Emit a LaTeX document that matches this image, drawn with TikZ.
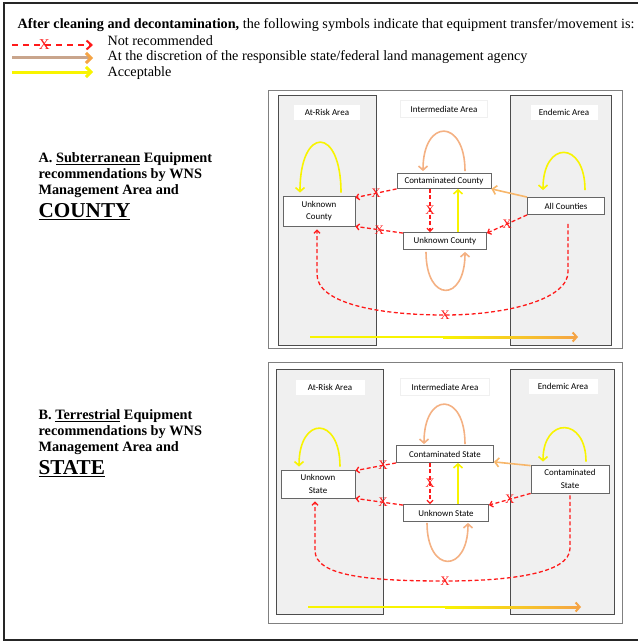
\documentclass[tikz,border=0pt]{standalone}
\usepackage{fontspec}
\setmainfont{Liberation Serif}
\newfontfamily\calfont{Carlito}
\usetikzlibrary{arrows.meta,positioning}
\definecolor{wnsred}{HTML}{FF1A1A}
\definecolor{wnsyellow}{HTML}{F8F400}
\definecolor{wnsorange}{HTML}{F4B183}
\definecolor{wnstan}{HTML}{C9A58C}
\definecolor{wnsamber}{HTML}{F5A445}
\definecolor{areafill}{HTML}{F0F0F0}

\begin{document}
\begin{tikzpicture}[x=1pt,y=-1pt,line width=1.2pt,
  area/.style={draw=black!70,fill=areafill,line width=1pt,inner sep=0pt},
  panel/.style={draw=black!50,line width=0.8pt},
  arealabel/.style={fill=white,draw=black!6,line width=0.5pt,font=\calfont\fontsize{9}{10}\selectfont,inner sep=0pt},
  site/.style={draw=black!60,fill=white,line width=0.8pt,font=\calfont\fontsize{8.9}{12.5}\selectfont,align=center,inner sep=0pt},
  nogo/.style={draw=wnsred,dash pattern=on 4pt off 2.5pt,line width=1.3pt,-{Straight Barb[length=3pt,width=6pt]}},
  okay/.style={draw=wnsyellow,line width=1.6pt,-{Straight Barb[length=4pt,width=9pt]}},
  maybe/.style={draw=wnsorange,line width=1.6pt,-{Straight Barb[length=4pt,width=9pt]}},
  xmark/.style={text=wnsred,font=\fontsize{13}{13}\selectfont,inner sep=0pt},
  legendtext/.style={anchor=west,inner sep=0pt,font=\fontsize{14.2}{15}\selectfont},
  title/.style={anchor=north west,inner sep=0pt,align=left,font=\bfseries\fontsize{14.3}{16}\selectfont}]
\useasboundingbox (0,0) rectangle (637,642);
\draw[black!85,line width=1.8pt] (4,3) rectangle (650,640);

% legend
\node[anchor=west,inner sep=0pt,font=\fontsize{14.2}{15}\selectfont] (head) at (17,25)
  {\textbf{After cleaning and decontamination,} the following symbols indicate that equipment transfer/movement is:};
\coordinate (nr0) at (12,45); \coordinate (nr1) at (93,45);
\coordinate (ds0) at (12,58); \coordinate (ds1) at (93,58);
\coordinate (ok0) at (12,72); \coordinate (ok1) at (93,72);
\draw[nogo,line width=2pt,dash pattern=on 6pt off 5pt,-{Straight Barb[length=5pt,width=9pt]}] (nr0) -- (nr1) node[xmark,pos=0.4,font=\fontsize{15}{15}\selectfont]{X};
\draw[wnstan,line width=3pt,-{Straight Barb[length=5pt,width=10pt,color=wnsamber]}] (ds0) -- (ds1);
\draw[okay,line width=3pt,-{Straight Barb[length=5pt,width=10pt]}] (ok0) -- (ok1);
\node[legendtext] (nrtext) at (107,41) {Not recommended};
\node[legendtext] (dstext) at (107,57) {At the discretion of the responsible state/federal land management agency};
\node[legendtext] (oktext) at (107,73) {Acceptable};

% panel A: county
\node[title] (titleA) at (38,152) {A. \underline{Subterranean} Equipment\\recommendations by WNS\\Management Area and\\[5pt]{\fontsize{21.2}{21}\selectfont\underline{COUNTY}}};
\draw[panel] (268,90) rectangle (622,348);
\node[area,minimum width=98pt,minimum height=250pt] (riskboxA) at (327,220) {};
\node[area,minimum width=101pt,minimum height=250pt] (endboxA) at (560.5,220) {};
\node[arealabel,minimum width=67pt,minimum height=16pt] (riskA) at (327,112) {At-Risk Area};
\node[arealabel,minimum width=87pt,minimum height=17pt] (midA) at (444,109) {Intermediate Area};
\node[arealabel,minimum width=68pt,minimum height=16pt] (endA) at (564,112) {Endemic Area};
\node[site,minimum width=72pt,minimum height=30pt] (ucA) at (319,211) {Unknown\\County};
\node[site,minimum width=94pt,minimum height=15pt] (ccA) at (444,181) {Contaminated County};
\node[site,minimum width=83pt,minimum height=17pt] (umA) at (445,241) {Unknown County};
\node[site,minimum width=77pt,minimum height=17pt] (acA) at (566,206) {All Counties};
\path
  (ccA.south west) edge[nogo] node[xmark]{X} ([yshift=-2pt]ucA.north east)
  ([yshift=-1pt]umA.north west) edge[nogo] node[xmark]{X} (ucA.south east)
  ([xshift=-14pt]ccA.south) edge[nogo] node[xmark]{X} ([xshift=-14pt]ccA.south |- umA.north)
  ([xshift=13pt]umA.north) edge[okay] ([xshift=13pt]umA.north |- ccA.south)
  (acA.north west) edge[maybe,draw=wnsamber!80] (ccA.south east)
  (acA.south west) edge[nogo] node[xmark]{X} ([yshift=-1pt]umA.north east)
  ([xshift=22pt,yshift=3pt]ucA.north) edge[okay,out=90,in=90,distance=67pt] ([xshift=-19pt,yshift=3pt]ucA.north)
  ([xshift=21pt,yshift=2pt]ccA.north) edge[maybe,out=90,in=90,distance=53pt] ([xshift=-21pt,yshift=2pt]ccA.north)
  ([xshift=-19pt,yshift=-2pt]umA.south) edge[maybe,out=-90,in=-90,distance=51pt] ([xshift=20pt,yshift=-2pt]umA.south)
  ([xshift=19pt,yshift=7pt]acA.north) edge[okay,out=90,in=90,distance=50pt] ([xshift=-23pt,yshift=7pt]acA.north)
  ;
\draw[nogo] ([xshift=2pt,yshift=-9pt]acA.south) -- ++(0,48) .. controls +(0,28) and +(60,0) .. (445,315) node[xmark]{X}
  .. controls +(-70,0) and +(0,28) .. ([xshift=-2pt,yshift=-48pt]ucA.south) -- ([xshift=-2pt,yshift=-3pt]ucA.south);
\coordinate (gA0) at (310,337); \coordinate (gAm) at (443,337); \coordinate (gA1) at (578,337);
\draw[wnsyellow,line width=2pt] (gA0) -- (gAm);
\shade[left color=wnsyellow,right color=wnsamber] ([yshift=1pt]gAm) rectangle ([xshift=-2pt,yshift=-1pt]gA1);
\draw[wnsamber,line width=2pt,-{Straight Barb[length=4pt,width=9pt]}] ([xshift=-4pt]gA1) -- (gA1);

% panel B: state
\node[title] (titleB) at (38,409) {B. \underline{Terrestrial} Equipment\\recommendations by WNS\\Management Area and\\[5pt]{\fontsize{21.2}{21}\selectfont\underline{STATE}}};
\draw[panel] (268,362) rectangle (622,623);
\node[area,minimum width=107pt,minimum height=245pt] (riskboxB) at (329.5,491.5) {};
\node[area,minimum width=104pt,minimum height=245pt] (endboxB) at (562,491.5) {};
\node[arealabel,minimum width=70pt,minimum height=16pt] (riskB) at (330,387) {At-Risk Area};
\node[arealabel,minimum width=89pt,minimum height=17pt] (midB) at (445,387) {Intermediate Area};
\node[arealabel,minimum width=70pt,minimum height=16pt] (endB) at (563,386) {Endemic Area};
\node[site,minimum width=74pt,minimum height=28pt] (usB) at (318,484) {Unknown\\State};
\node[site,minimum width=97pt,minimum height=17pt] (csB) at (445,454) {Contaminated State};
\node[site,minimum width=85pt,minimum height=17pt] (umB) at (446,513) {Unknown State};
\node[site,minimum width=78pt,minimum height=28pt] (crB) at (570,479) {Contaminated\\State};
\path
  (csB.south west) edge[nogo] node[xmark,pos=0.32]{X} ([yshift=-1pt]usB.north east)
  ([yshift=-1pt]umB.north west) edge[nogo] node[xmark,pos=0.42]{X} (usB.south east)
  ([xshift=-15pt]csB.south) edge[nogo] node[xmark]{X} ([xshift=-15pt]csB.south |- umB.north)
  ([xshift=12pt]umB.north) edge[okay] ([xshift=12pt]umB.north |- csB.south)
  ([yshift=-1pt]crB.north west) edge[maybe,draw=wnsamber!80] ([yshift=1pt]csB.south east)
  (crB.south west) edge[nogo] node[xmark]{X} ([yshift=-1pt]umB.north east)
  ([xshift=22pt,yshift=3pt]usB.north) edge[okay,out=90,in=90,distance=51pt] ([xshift=-19pt,yshift=3pt]usB.north)
  ([xshift=20pt,yshift=1pt]csB.north) edge[maybe,out=90,in=90,distance=53pt] ([xshift=-21pt,yshift=1pt]csB.north)
  ([xshift=-19pt,yshift=-1pt]umB.south) edge[maybe,out=-90,in=-90,distance=51pt] ([xshift=22pt,yshift=-1pt]umB.south)
  ([xshift=16pt,yshift=3pt]crB.north) edge[okay,out=90,in=90,distance=45pt] ([xshift=-27pt,yshift=3pt]crB.north)
  ;
\draw[nogo] ([yshift=-2pt]crB.south) -- ++(0,53) .. controls +(0,26) and +(60,0) .. (445,581) node[xmark]{X}
  .. controls +(-75,0) and +(0,26) .. ([xshift=-3pt,yshift=-52pt]usB.south) -- ([xshift=-3pt,yshift=-3pt]usB.south);
\coordinate (gB0) at (308,607); \coordinate (gBm) at (445,607); \coordinate (gB1) at (581,607);
\draw[wnsyellow,line width=2pt] (gB0) -- (gBm);
\shade[left color=wnsyellow,right color=wnsamber] ([yshift=1pt]gBm) rectangle ([xshift=-2pt,yshift=-1pt]gB1);
\draw[wnsamber,line width=2pt,-{Straight Barb[length=4pt,width=9pt]}] ([xshift=-4pt]gB1) -- (gB1);
\end{tikzpicture}
\end{document}
